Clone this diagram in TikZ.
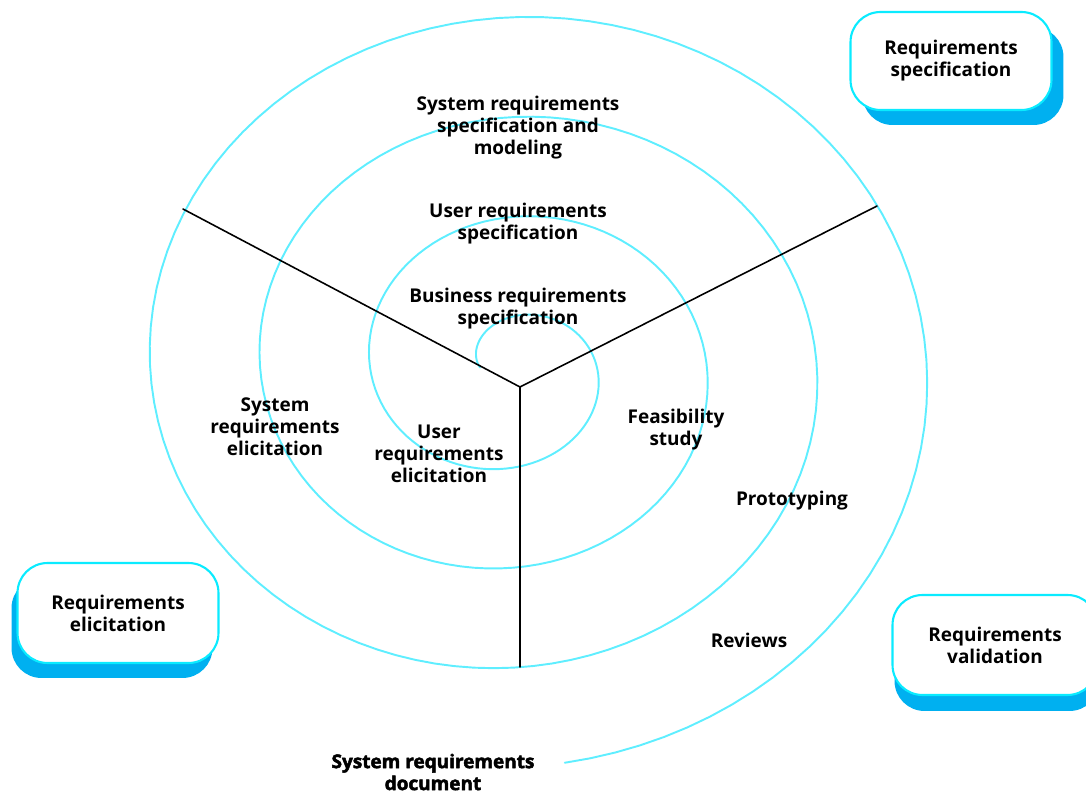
\documentclass[tikz,border=0pt]{standalone}
\usepackage{fontspec}
\setmainfont{Open Sans}
\newfontfamily\heavyfont{Open Sans}[BoldFeatures={FakeBold=2.5}]
\usetikzlibrary{shadows}
\definecolor{spiralcyan}{RGB}{95,238,255}
\definecolor{boxcyan}{RGB}{10,235,255}
\definecolor{shadowblue}{RGB}{0,176,240}

\begin{document}
\begin{tikzpicture}[line cap=round,line join=round,x=0.02cm,y=-0.02cm,
	lbl/.style={font=\bfseries\fontsize{10.8}{12.5}\selectfont,align=center,inner sep=0pt},
	phase/.style={draw=boxcyan,line width=1.2pt,fill=white,rounded corners=0.6cm,
		minimum width=4.02cm,minimum height=2cm,align=center,
		font=\bfseries\fontsize{10.8}{12.5}\selectfont}]

		\useasboundingbox (0,0) rectangle (1086,793);

		%spiraali:
		\draw[color=spiralcyan,line width=1.1pt] plot[domain=-pi:20.3,samples=400]
			({511+(86+17.5*\x)*cos(\x r)},{367.5+(75.5+15.9*\x)*sin(\x r)});

		%sektoriviivat
		\coordinate (hub) at (520,387);
		\coordinate (spokeL) at (183,209);
		\coordinate (spokeR) at (877,206);
		\coordinate (spokeD) at (520,667);
		\foreach \s in {spokeL,spokeR,spokeD}
		{\draw[line width=0.9pt] (hub) -- (\s);
		}

		% tekstit spiraalin sisalla
		\node[lbl] (sysspec) at (518,128) {System requirements\\specification and\\modeling};
		\node[lbl] (userspec) at (518,224) {User requirements\\specification};
		\node[lbl] (busspec) at (518,309) {Business requirements\\specification};

		\node[lbl] (syselic) at (275,427) {System\\requirements\\elicitation};
		\node[lbl] (userelic) at (439,454) {User\\requirements\\elicitation};

		\node[lbl] (feas) at (676,430) {Feasibility\\study};
		\node[lbl] (proto) at (792,501) {Prototyping};
		\node[lbl] (review) at (749,640) {Reviews};

		\node[lbl,font=\heavyfont\bfseries\fontsize{10.8}{12.5}\selectfont] (sysdoc) at (433,772) {System requirements\\document};

		% laatikot
		\node[phase,drop shadow={fill=shadowblue,opacity=1,shadow xshift=-0.12cm,shadow yshift=-0.3cm}]
			(elicit) at (118,613) {Requirements\\elicitation};
		\node[phase,minimum height=1.96cm,drop shadow={fill=shadowblue,opacity=1,shadow xshift=0.24cm,shadow yshift=-0.3cm}]
			(spec) at (951,61) {Requirements\\specification};
		\node[phase,minimum width=4.1cm,drop shadow={fill=shadowblue,opacity=1,shadow xshift=0.04cm,shadow yshift=-0.32cm}]
			(valid) at (995,645) {Requirements\\validation};

	\end{tikzpicture}
\end{document}
